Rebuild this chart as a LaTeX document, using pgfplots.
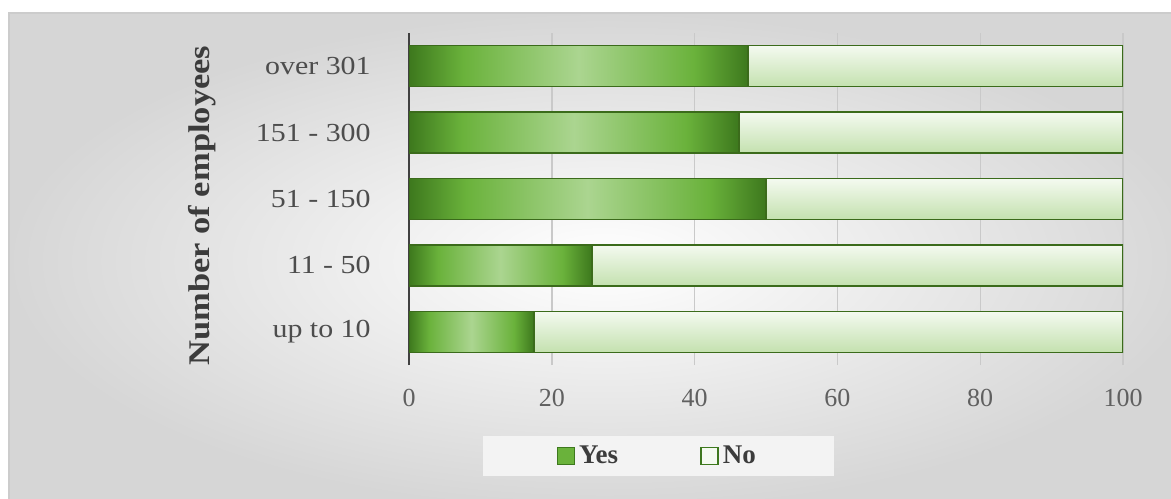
\documentclass[border=0pt]{standalone}
\usepackage{fontspec}
\setmainfont{Liberation Serif}
\newfontfamily\wideserif[FakeStretch=1.15]{Liberation Serif}
\newfontfamily\sansf{Liberation Sans}
\usepackage{pgfplots}
\pgfplotsset{compat=1.18}
\definecolor{ydark}{HTML}{3D781D}
\definecolor{ymid}{HTML}{6AB23B}
\definecolor{ylight}{HTML}{ABD590}
\definecolor{ntop}{HTML}{F4FAF0}
\definecolor{nmid}{HTML}{E0F0D5}
\definecolor{nbot}{HTML}{C4E1AF}
\definecolor{bdr}{HTML}{3B6B1B}
\definecolor{gridc}{HTML}{C9C9C9}
\definecolor{axc}{HTML}{404040}
\definecolor{tickc}{HTML}{606060}
\definecolor{catc}{HTML}{4D4D4D}
\definecolor{ylabc}{HTML}{3C3C3C}
\definecolor{legbg}{HTML}{F3F3F3}
\pgfdeclarehorizontalshading{yesshade}{100bp}{color(0bp)=(ydark); color(25bp)=(ydark); color(33bp)=(ymid); color(50bp)=(ylight); color(67bp)=(ymid); color(75bp)=(ydark); color(100bp)=(ydark)}
\pgfplotsset{
  base/.style={
    at={(204.5bp,67bp)}, anchor=south west,
    width=357bp, height=166bp, scale only axis,
    xbar stacked, bar width=20.5bp,
    xmin=0, xmax=100, ymin=-0.5, ymax=4.5,
  },
  yesbar/.style={draw=bdr, line width=0.75bp, shade, shading=yesshade},
  nobar/.style={draw=bdr, line width=0.75bp, top color=ntop, middle color=nmid, bottom color=nbot},
}
\begin{document}
\begin{tikzpicture}
\useasboundingbox (0,0) rectangle (585.5bp,249.5bp);
\fill[white] (0,0) rectangle (585.5bp,249.5bp);
\shade[inner color=white, outer color=black!16] (4.5bp,-5bp) rectangle (600bp,243bp);
\draw[black!20, line width=1bp] (4.5bp,-5bp) -- (4.5bp,243bp) -- (600bp,243bp);
\begin{axis}[
  base,
  xtick={0,20,...,100}, ytick={0,...,4},
  yticklabels={up to 10, 11 - 50, 51 - 150, 151 - 300, over 301},
  xmajorgrids, grid style={color=gridc, line width=0.7bp},
  axis lines*=left, separate axis lines,
  x axis line style={draw=none},
  y axis line style={draw=axc, line width=1.2bp},
  major tick length=0pt, tick style={draw=none},
  /pgf/number format/assume math mode=true,
  xticklabel style={font=\fontsize{13bp}{15bp}\selectfont, text=tickc, anchor=north, inner sep=0pt, yshift=-12bp},
  yticklabel style={font=\wideserif\fontsize{13bp}{15bp}\selectfont, text=catc, anchor=east, inner sep=0pt, xshift=-19bp},
  ylabel={Number of employees},
  every axis y label/.style={at={(axis description cs:-0.29,0.48)}, rotate=90, anchor=center,
    font=\wideserif\bfseries\fontsize{15bp}{17bp}\selectfont, text=ylabc},
  legend columns=2,
  legend style={at={(axis description cs:0.349,-0.274)}, anchor=center, fill=legbg, draw=none,
    inner xsep=37bp, inner ysep=3bp, font=\bfseries\fontsize{13.5bp}{15bp}\selectfont, text=ylabc,
    /tikz/every even column/.append style={column sep=39bp}},
]
% up to 10
\addplot[forget plot, yesbar] coordinates {(17.5,0)};
\addplot[forget plot, nobar] coordinates {(82.5,0)};
\addlegendimage{legend image code/.code={\draw[fill=ymid, draw=ydark, line width=0.7bp] (0bp,-4.25bp) rectangle (8.5bp,4.25bp);}}
\addlegendentry{Yes}
\addlegendimage{legend image code/.code={\draw[fill=ntop, draw=ydark, line width=0.9bp] (0bp,-4.25bp) rectangle (8.5bp,4.25bp);}}
\addlegendentry{No}
\node[font=\sansf\bfseries\fontsize{8.5bp}{10bp}\selectfont, text=tickc] at (rel axis cs:1.043,0.054) {\%};
\end{axis}
% 11 - 50
\begin{axis}[base, hide axis]
\addplot[yesbar] coordinates {(25.6,1)};
\addplot[nobar] coordinates {(74.4,1)};
\end{axis}
% 51 - 150
\begin{axis}[base, hide axis]
\addplot[yesbar] coordinates {(50.0,2)};
\addplot[nobar] coordinates {(50.0,2)};
\end{axis}
% 151 - 300
\begin{axis}[base, hide axis]
\addplot[yesbar] coordinates {(46.2,3)};
\addplot[nobar] coordinates {(53.8,3)};
\end{axis}
% over 301
\begin{axis}[base, hide axis]
\addplot[yesbar] coordinates {(47.5,4)};
\addplot[nobar] coordinates {(52.5,4)};
\end{axis}
\end{tikzpicture}
\end{document}
